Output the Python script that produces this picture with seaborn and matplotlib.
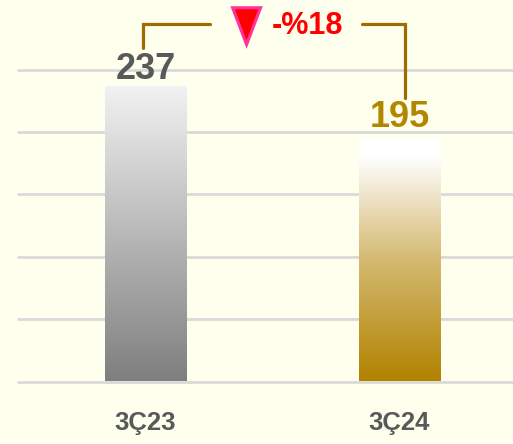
import numpy as np
import pandas as pd
import matplotlib
matplotlib.use("Agg")
import matplotlib.pyplot as plt
from matplotlib.colors import LinearSegmentedColormap
from matplotlib.patches import Polygon
import seaborn as sns

categories = ["3Ç23", "3Ç24"]
values = [237, 195]
change_label = "-%18"

sns.set_theme(style="white")
plt.rcParams['font.family'] = ['Liberation Sans', 'DejaVu Sans']

BG = "#FFFFEE"
fig = plt.figure(figsize=(5.13, 4.44), dpi=100, facecolor=BG)
ax = fig.add_axes([18/513, 62.5/444, 495/513, 381.5/444])
ax.set_facecolor(BG)

df = pd.DataFrame({"cat": categories, "val": values})
sns.barplot(data=df, x="cat", y="val", ax=ax, width=0.319, color="#999999")

ax.set_xlim(-0.502, 1.447)
ax.set_ylim(0, 305.7)
ax.set_yticks([0, 50, 100, 150, 200, 250])
ax.yaxis.grid(True, color="#D9D9D9", linewidth=2.0)
for gl in ax.yaxis.get_gridlines():
    gl.set_clip_on(False)
ax.set_axisbelow(True)
for s in ax.spines.values():
    s.set_visible(False)
ax.tick_params(axis="y", left=False, labelleft=False)
ax.tick_params(axis="x", length=0, pad=21)
ax.set_xlabel("")
ax.set_ylabel("")
for lab in ax.get_xticklabels():
    lab.set_fontsize(18.5)
    lab.set_fontweight("bold")
    lab.set_color("#595959")

gray_cmap = LinearSegmentedColormap.from_list("g", [(0, "#7F7F7F"), (1, "#F2F2F2")])
gold_cmap = LinearSegmentedColormap.from_list("y", [
    (0.0, "#B28200"), (0.5, "#D4BA72"), (0.75, "#EEE2C6"), (0.92, "#FFFFFF"), (1.0, "#FFFFFF")])
cmaps = [gray_cmap, gold_cmap]
grad = np.linspace(0, 1, 256).reshape(-1, 1)
for p, cm in zip(ax.patches, cmaps):
    x0, y0 = p.get_x(), p.get_y()
    w, h = p.get_width(), p.get_height()
    p.set_facecolor("none")
    p.set_edgecolor("none")
    im = ax.imshow(grad, cmap=cm, origin="lower", aspect="auto",
                   extent=[x0, x0 + w, y0, y0 + h], zorder=2)
    im.set_clip_path(p)
ax.set_xlim(-0.502, 1.447)
ax.set_ylim(0, 305.7)

label_colors = ["#595959", "#B38600"]
offsets = [5, 8]
for i, (v, c, o) in enumerate(zip(values, label_colors, offsets)):
    ax.annotate(str(v), (i, v), xytext=(0, o), textcoords="offset points",
                ha="center", va="baseline", fontsize=26, fontweight="bold", color=c)

# bracket
bc = "#A06C00"
ax.plot([-0.01, -0.01, 0.254], [267, 286.5, 286.5], color=bc, lw=2.3,
        clip_on=False, solid_joinstyle="miter", zorder=3)
ax.plot([0.852, 1.022, 1.022], [286.5, 286.5, 227], color=bc, lw=2.3,
        clip_on=False, solid_joinstyle="miter", zorder=3)

# triangle
tri = Polygon([[0.343, 299.5], [0.453, 299.5], [0.398, 270]], closed=True,
              facecolor="#FF0000", edgecolor="#FF3399", lw=2.2, clip_on=False,
              joinstyle="miter", zorder=4)
ax.add_patch(tri)
ax.text(0.498, 278.4, change_label, ha="left", va="baseline", fontsize=22,
        fontweight="bold", color="#FF0000", zorder=4)

fig.savefig("out.png", dpi=100, facecolor=BG)
